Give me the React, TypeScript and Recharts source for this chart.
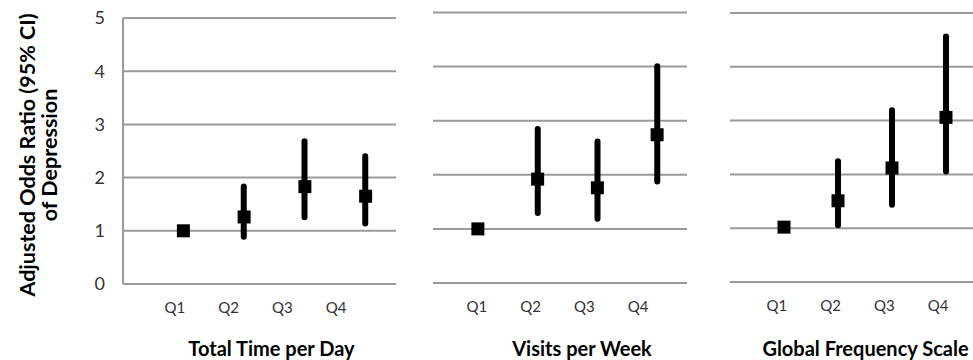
import React from 'react';
import { ComposedChart, Bar, Line, XAxis, YAxis, CartesianGrid } from 'recharts';

const quartiles = ['Q1', 'Q2', 'Q3', 'Q4'];
const yTicks = [0, 1, 2, 3, 4, 5];

const timeOR = [1.0, 1.26, 1.83, 1.65];
const timeLow = [null, 0.83, 1.2, 1.08];
const timeHigh = [null, 1.89, 2.74, 2.46];

const visitsOR = [1.0, 1.92, 1.76, 2.74];
const visitsLow = [null, 1.24, 1.13, 1.82];
const visitsHigh = [null, 2.9, 2.67, 4.06];

const globalOR = [1.02, 1.51, 2.12, 3.06];
const globalLow = [null, 1.0, 1.38, 2.0];
const globalHigh = [null, 2.3, 3.25, 4.62];

const titles = ['Total Time per Day', 'Visits per Week', 'Global Frequency Scale'];
const yTitleLines = ['Adjusted Odds Ratio (95% CI)', 'of Depression'];

const FONT = 'Lato, "Open Sans", sans-serif';

function buildRows(or: number[], low: (number | null)[], high: (number | null)[]) {
  return quartiles.map((q, i) => ({
    q,
    or: or[i],
    ci: low[i] == null || high[i] == null ? null : [low[i], high[i]],
  }));
}

const SquareDot = (props: any) => {
  const { cx, cy, index } = props;
  if (cx == null || cy == null) return <g key={`d${index}`} />;
  return <rect key={`d${index}`} x={cx - 6.5} y={cy - 6.5} width={13} height={13} fill="#000" />;
};

type PanelProps = {
  rows: any[];
  title: string;
  left: number;
  width: number;
  margin: { top: number; right: number; bottom: number; left: number };
  showY: boolean;
  markPad: { left: number; right: number };
  labelPad: { left: number; right: number };
  titleDx: number;
};

function Panel({ rows, title, left, width, margin, showY, markPad, labelPad, titleDx }: PanelProps) {
  return (
    <div style={{ position: 'absolute', left, top: 0 }}>
      <ComposedChart width={width} height={360} data={rows} margin={margin} style={{ fontFamily: FONT }}>
        <CartesianGrid vertical={false} stroke="#9a9a9a" strokeWidth={2} />
        <XAxis dataKey="q" type="category" scale="band" hide height={0} padding={markPad} />
        <XAxis
          xAxisId="lab"
          dataKey="q"
          type="category"
          scale="band"
          height={30}
          padding={labelPad}
          axisLine={false}
          tickLine={false}
          tickSize={0}
          tickMargin={18}
          tick={{ fontSize: 15, fill: '#333', fontFamily: FONT }}
          label={(p: any) => {
            const vb = p.viewBox || { x: 0, width: 0 };
            return (
              <text
                x={vb.x + vb.width / 2 + titleDx}
                y={356}
                textAnchor="middle"
                fontSize={20}
                fontWeight="bold"
                fill="#000"
                fontFamily={FONT}
              >
                {title}
              </text>
            );
          }}
        />
        <YAxis
          domain={[0, 5]}
          ticks={yTicks}
          hide={!showY}
          width={showY ? 123 : 0}
          axisLine={{ stroke: '#9a9a9a', strokeWidth: 2 }}
          tickLine={false}
          tickSize={0}
          tickMargin={18}
          tick={{ fontSize: 18, fill: '#333', fontFamily: FONT }}
          label={
            showY
              ? () => (
                  <text
                    transform="translate(35, 155) rotate(-90)"
                    textAnchor="middle"
                    fontSize={21.5}
                    fontWeight="bold"
                    fill="#000"
                    fontFamily={FONT}
                  >
                    <tspan x={0} dy={0}>{yTitleLines[0]}</tspan>
                    <tspan x={0} dy={22}>{yTitleLines[1]}</tspan>
                  </text>
                )
              : undefined
          }
        />
        <Bar dataKey="ci" barSize={6} fill="#000" radius={3} isAnimationActive={false} />
        <Line
          dataKey="or"
          stroke="none"
          dot={SquareDot}
          activeDot={false}
          isAnimationActive={false}
        />
      </ComposedChart>
    </div>
  );
}

export default function App() {
  const timeRows = buildRows(timeOR, timeLow, timeHigh);
  const visitRows = buildRows(visitsOR, visitsLow, visitsHigh);
  const globalRows = buildRows(globalOR, globalLow, globalHigh);
  return (
    <div style={{ position: 'absolute', left: 0, top: 0, width: 973, height: 360, background: '#fff', overflow: 'hidden' }}>
      <Panel
        rows={timeRows}
        title={titles[0]}
        left={0}
        width={400}
        margin={{ top: 18, right: 4, bottom: 46, left: 0 }}
        showY
        markPad={{ left: 30, right: 0 }}
        labelPad={{ left: 25, right: 33 }}
        titleDx={12}
      />
      <Panel
        rows={visitRows}
        title={titles[1]}
        left={400}
        width={300}
        margin={{ top: 12.5, right: 13, bottom: 47, left: 33 }}
        showY={false}
        markPad={{ left: 15, right: 0 }}
        labelPad={{ left: 17, right: 22 }}
        titleDx={22}
      />
      <Panel
        rows={globalRows}
        title={titles[2]}
        left={700}
        width={273}
        margin={{ top: 13, right: 0, bottom: 48, left: 30 }}
        showY={false}
        markPad={{ left: 27, right: 0 }}
        labelPad={{ left: 20, right: 8 }}
        titleDx={14}
      />
    </div>
  );
}
